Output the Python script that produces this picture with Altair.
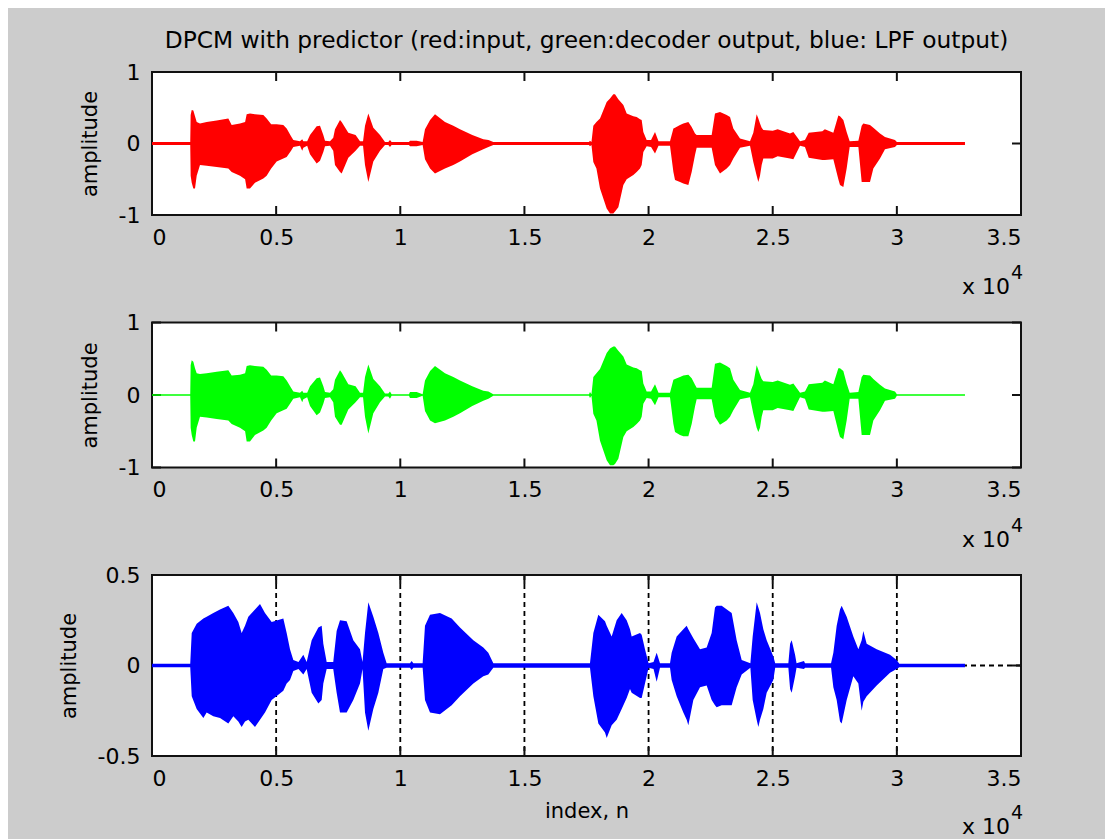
import altair as alt
import pandas as pd

# ---------------- text ----------------
TITLE = "DPCM with predictor (red:input, green:decoder output, blue: LPF output)"
Y_LABEL = "amplitude"
X_LABEL = "index, n"
EXP_BASE = ["x 10"]
EXP_POWER = ["4"]

# ---------------- ticks ----------------
X_TICKS = [0, 5000, 10000, 15000, 20000, 25000, 30000, 35000]
GRID_X = [5000, 10000, 15000, 20000, 25000, 30000]
Y_TICKS_IO = [-1, 0, 1]
Y_TICKS_LPF = [-0.5, 0, 0.5]
GRID_Y_LPF = [0]

# ---------------- envelopes ----------------
RG_X = [0, 1540, 1557, 1600, 1665, 1732, 1800, 1933, 2202, 2605, 3074, 3209, 3544, 3750,
        3813, 3947, 4148, 4484, 4618, 4800, 5021, 5289, 5424, 5600, 5692, 5961, 6050, 6095,
        6250, 6364, 6632, 6766, 6900, 6968, 7169, 7300, 7370, 7572, 7639, 7907, 8200, 8377,
        8500, 8579, 8713, 8914, 9183, 9384, 9520, 9585, 9650, 10350, 10391, 10659, 10900,
        10995, 11200, 11398, 11800, 12136, 12405, 12900, 13344, 13550, 13747, 17600, 17640,
        17700, 17775, 17900, 18044, 18313, 18447, 18580, 18648, 18782, 18984, 19118, 19387,
        19521, 19655, 19722, 19789, 19923, 20100, 20259, 20400, 20863, 21000, 21065, 21266,
        21400, 21602, 21736, 21870, 21937, 22541, 22675, 22877, 23146, 23280, 23414, 23683,
        24085, 24219, 24354, 24421, 24488, 24555, 24622, 25000, 25200, 25696, 25831, 26000,
        26100, 26300, 26450, 27000, 27100, 27441, 27643, 27710, 27844, 27978, 28100, 28450,
        28583, 28650, 28918, 29053, 29321, 29522, 29925, 30000, 32744]

RED_HI = [.02, .02, .40, .47, .46, .38, .30, .28, .30, .32, .35, .26, .28, .30,
          .41, .42, .41, .40, .35, .27, .27, .26, .21, .10, .05, .03, .06, .03,
          .03, .12, .24, .25, .12, .04, .03, .08, .20, .33, .30, .15, .12, .03,
          .03, .25, .42, .22, .12, .02, .02, .05, .02, .02, .04, .04, .02,
          .20, .33, .41, .30, .25, .20, .12, .06, .05, .02, .02, .04,
          .02, .25, .30, .35, .58, .63, .69, .69, .62, .54, .42, .38,
          .37, .34, .33, .16, .05, .05, .16, .03, .03, .21, .22, .26,
          .28, .30, .23, .14, .12, .12, .42, .44, .40, .37, .21, .07,
          .03, .15, .41, .35, .28, .22, .19, .18, .20, .14, .16, .08,
          .03, .05, .15, .17, .20, .15, .39, .38, .33, .16, .03, .04,
          .25, .28, .26, .22, .14, .09, .05, .02, .02]
RED_LO = [-.02, -.02, -.45, -.55, -.63, -.63, -.45, -.30, -.31, -.33, -.35, -.40, -.45, -.50,
          -.63, -.63, -.55, -.49, -.45, -.35, -.25, -.21, -.19, -.10, -.05, -.03, -.10, -.06,
          -.03, -.15, -.28, -.24, -.12, -.04, -.03, -.10, -.30, -.40, -.42, -.20, -.10, -.03,
          -.03, -.30, -.54, -.25, -.10, -.02, -.02, -.05, -.02, -.02, -.04, -.04, -.02,
          -.22, -.35, -.42, -.35, -.30, -.25, -.15, -.08, -.05, -.02, -.02, -.04,
          -.02, -.26, -.35, -.63, -.91, -.98, -.98, -.95, -.89, -.58, -.50, -.44,
          -.40, -.35, -.30, -.12, -.04, -.05, -.14, -.03, -.03, -.40, -.51, -.54,
          -.56, -.58, -.40, -.16, -.06, -.06, -.30, -.42, -.35, -.30, -.21, -.06,
          -.03, -.26, -.45, -.54, -.45, -.30, -.21, -.21, -.18, -.21, -.22, -.10,
          -.03, -.05, -.20, -.23, -.23, -.22, -.50, -.58, -.61, -.35, -.05, -.05,
          -.54, -.54, -.54, -.35, -.21, -.08, -.05, -.02, -.02]

GREEN_HI = [.011, .011, .41, .48, .46, .37, .30, .29, .30, .32, .34, .27, .28, .30,
            .40, .41, .40, .39, .35, .27, .27, .26, .20, .10, .05, .03, .06, .03,
            .03, .12, .23, .24, .12, .04, .03, .08, .21, .34, .31, .15, .12, .03,
            .03, .25, .42, .22, .12, .02, .02, .05, .011, .011, .04, .04, .011,
            .20, .33, .40, .30, .25, .20, .12, .06, .05, .011, .011, .04,
            .011, .25, .30, .36, .58, .64, .67, .67, .61, .53, .42, .38,
            .37, .34, .33, .16, .05, .05, .15, .03, .03, .21, .22, .25,
            .27, .28, .23, .14, .10, .10, .43, .45, .40, .37, .21, .07,
            .03, .15, .41, .35, .28, .22, .19, .18, .20, .14, .16, .08,
            .03, .05, .15, .17, .20, .15, .37, .37, .33, .16, .03, .04,
            .25, .28, .27, .22, .14, .09, .05, .011, .011]
GREEN_LO = [-.011, -.011, -.45, -.55, -.64, -.64, -.45, -.30, -.31, -.33, -.35, -.40, -.45, -.50,
            -.64, -.64, -.55, -.49, -.45, -.35, -.25, -.21, -.19, -.10, -.05, -.03, -.10, -.06,
            -.03, -.15, -.28, -.24, -.12, -.04, -.03, -.10, -.30, -.41, -.41, -.20, -.10, -.03,
            -.03, -.30, -.53, -.25, -.10, -.02, -.02, -.05, -.011, -.011, -.04, -.04, -.011,
            -.22, -.35, -.39, -.35, -.30, -.25, -.15, -.08, -.05, -.011, -.011, -.04,
            -.011, -.26, -.35, -.63, -.90, -.97, -.97, -.95, -.88, -.58, -.50, -.44,
            -.40, -.35, -.30, -.12, -.04, -.05, -.14, -.03, -.03, -.40, -.51, -.55,
            -.57, -.57, -.40, -.16, -.06, -.06, -.30, -.41, -.35, -.30, -.21, -.06,
            -.03, -.26, -.45, -.51, -.45, -.30, -.21, -.21, -.18, -.21, -.22, -.10,
            -.03, -.05, -.20, -.23, -.23, -.22, -.50, -.58, -.61, -.35, -.05, -.05,
            -.55, -.55, -.55, -.35, -.21, -.08, -.05, -.011, -.011]

B_X = [0, 1540, 1600, 1800, 2068, 2202, 2470, 2739, 3074, 3276, 3477, 3611, 3746, 3880,
       4148, 4350, 4551, 4820, 5289, 5424, 5558, 5692, 5900, 6095, 6230, 6431, 6700, 6834,
       6900, 7035, 7300, 7437, 7572, 7840, 8108, 8377, 8479, 8579, 8713, 8914, 9116, 9317,
       9450, 10391, 10458, 10525, 10900, 10995, 11197, 11599, 12069, 12405, 12942, 13344,
       13545, 13747, 17640, 17776, 17977, 18245, 18313, 18514, 18715, 18917, 19118, 19252,
       19319, 19655, 19722, 19856, 20000, 20200, 20326, 20460, 20863, 20930, 21132, 21400,
       21535, 21602, 21803, 22072, 22340, 22541, 22675, 22743, 22944, 23347, 23548, 23750,
       24100, 24193, 24354, 24421, 24488, 24622, 24757, 25025, 25100, 25630, 25700, 25764,
       25900, 25960, 26260, 26300, 27350, 27442, 27576, 27710, 27777, 27979, 28247, 28449,
       28583, 28650, 28784, 29187, 29724, 29990, 30100, 32744]
B_HI = [.009, .009, .18, .23, .26, .27, .29, .31, .33, .29, .24, .18, .22, .27,
        .31, .34, .29, .24, .26, .18, .09, .03, .02, .06, .02, .14, .21, .22,
        .12, .02, .02, .19, .25, .245, .14, .09, .02, .18, .35, .27, .18, .07,
        .012, .012, .025, .012, .012, .22, .28, .29, .26, .21, .14, .10,
        .07, .012, .012, .18, .28, .245, .22, .16, .25, .29, .25, .20,
        .16, .18, .17, .09, .012, .02, .07, .012, .012, .07, .16, .20,
        .22, .20, .15, .09, .10, .18, .32, .33, .33, .29, .14, .03,
        .012, .16, .35, .32, .29, .20, .14, .05, .012, .012, .12, .14,
        .06, .012, .025, .012, .012, .07, .22, .31, .33, .27, .16, .09,
        .14, .19, .12, .09, .06, .03, .009, .009]
B_LO = [-.009, -.009, -.17, -.24, -.29, -.26, -.28, -.29, -.32, -.28, -.31, -.34, -.31, -.30,
        -.34, -.30, -.26, -.19, -.14, -.10, -.08, -.03, -.02, -.05, -.02, -.15, -.21, -.19,
        -.10, -.02, -.02, -.15, -.26, -.26, -.19, -.10, -.02, -.26, -.36, -.24, -.15, -.02,
        -.012, -.012, -.025, -.012, -.012, -.19, -.26, -.27, -.22, -.17, -.10, -.06,
        -.05, -.012, -.012, -.17, -.32, -.37, -.40, -.33, -.30, -.24, -.18, -.13,
        -.15, -.18, -.18, -.10, -.012, -.02, -.09, -.012, -.012, -.08, -.17, -.26,
        -.30, -.33, -.19, -.12, -.11, -.19, -.22, -.23, -.22, -.22, -.12, -.05,
        -.012, -.19, -.30, -.34, -.30, -.24, -.15, -.08, -.012, -.012, -.13, -.15,
        -.06, -.012, -.02, -.012, -.012, -.12, -.19, -.31, -.32, -.19, -.06, -.10,
        -.25, -.20, -.17, -.11, -.04, -.02, -.009, -.009]

# ---------------- layout ----------------
W = 869
H_TOP, H_MID, H_BOT = 143, 145, 181
FONT = "DejaVu Sans"
TICK_LEN = 9
X_DOMAIN = [0, 35000]


def panel(xs_, hi, lo, color, yticks, h, grid=False, xtitle=None, title=None, exp_dy=79):
    df = pd.DataFrame({"n": xs_, "hi": hi, "lo": lo})
    xsc = alt.Scale(domain=X_DOMAIN, nice=False, zero=False)
    ysc = alt.Scale(domain=[yticks[0], yticks[-1]], nice=False, zero=False)
    xt = pd.DataFrame({"v": X_TICKS})
    yt = pd.DataFrame({"v": yticks})
    xaxis = alt.Axis(values=X_TICKS, labelExpr="'' + datum.value / 10000", title=xtitle,
                     domain=False, ticks=False, labelPadding=12, titlePadding=11,
                     labelOverlap=False, grid=False)
    yaxis = alt.Axis(values=yticks, labelExpr="'' + datum.value", title=Y_LABEL,
                     domain=False, ticks=False, labelPadding=12, titlePadding=18,
                     labelOverlap=False, grid=False)

    def X(f):
        return alt.X(f, scale=xsc, axis=xaxis)

    def Y(f):
        return alt.Y(f, scale=ysc, axis=yaxis)

    layers = []
    if grid:
        dash = dict(color="black", strokeDash=[5, 4], strokeWidth=1.8)
        layers.append(alt.Chart(pd.DataFrame({"v": GRID_X})).mark_rule(**dash).encode(
            x=X("v:Q")))
        layers.append(alt.Chart(pd.DataFrame({"v": GRID_Y_LPF})).mark_rule(**dash).encode(
            y=Y("v:Q")))
    tk = dict(color="#111111", strokeWidth=2)
    layers += [
        alt.Chart(xt).mark_rule(**tk).encode(x=X("v:Q"), y=alt.value(0), y2=alt.value(TICK_LEN)),
        alt.Chart(xt).mark_rule(**tk).encode(x=X("v:Q"), y=alt.value(h - TICK_LEN), y2=alt.value(h)),
        alt.Chart(yt).mark_rule(**tk).encode(y=Y("v:Q"), x=alt.value(0), x2=alt.value(TICK_LEN)),
        alt.Chart(yt).mark_rule(**tk).encode(y=Y("v:Q"), x=alt.value(W - TICK_LEN), x2=alt.value(W)),
    ]
    area = alt.Chart(df).mark_area(color=color, opacity=1, interpolate="linear").encode(
        x=X("n:Q"), y=Y("hi:Q"), y2="lo:Q")
    layers.append(area)
    layers.append(alt.Chart(pd.DataFrame({"t": EXP_BASE})).mark_text(
        align="left", baseline="alphabetic", font=FONT, fontSize=22, color="black").encode(
        text="t:N", x=alt.value(810), y=alt.value(h + exp_dy)))
    layers.append(alt.Chart(pd.DataFrame({"t": EXP_POWER})).mark_text(
        align="left", baseline="alphabetic", font=FONT, fontSize=19, color="black").encode(
        text="t:N", x=alt.value(859), y=alt.value(h + exp_dy - 15)))
    props = dict(width=W, height=h)
    if title:
        props["title"] = alt.TitleParams(title, font=FONT, fontSize=23.3, fontWeight="normal",
                                         color="black", anchor="middle", frame="group",
                                         baseline="bottom", offset=-15)
    return alt.layer(*layers).properties(**props)


p1 = panel(RG_X, RED_HI, RED_LO, "#ff0000", Y_TICKS_IO, H_TOP, title=TITLE, exp_dy=79)
p2 = panel(RG_X, GREEN_HI, GREEN_LO, "#00ff00", Y_TICKS_IO, H_MID, exp_dy=79)
p3 = panel(B_X, B_HI, B_LO, "#0000ff", Y_TICKS_LPF, H_BOT, grid=True, xtitle=X_LABEL,
           exp_dy=78)

chart = alt.vconcat(p1, p2, p3, spacing=107.5, bounds="flush").properties(
    padding={"left": 49, "top": 19, "right": 80, "bottom": 2},
    background="#cccccc",
).configure_view(
    fill="white", stroke="#111111", strokeWidth=2
).configure_axis(
    labelFont=FONT, labelFontSize=22, labelColor="black",
    titleFont=FONT, titleFontSize=21, titleFontWeight="normal", titleColor="black",
)

chart.save("out.html", embed_options={"renderer": "svg", "actions": False})
